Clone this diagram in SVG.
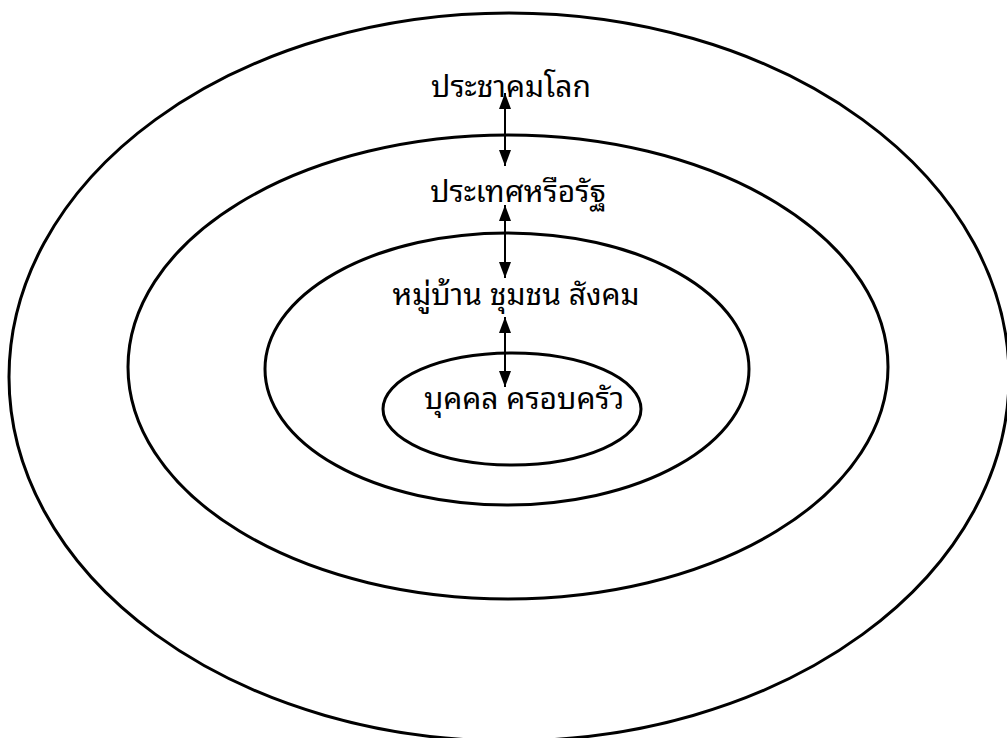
<svg xmlns="http://www.w3.org/2000/svg" width="1007" height="738" viewBox="0 0 1007 738">
<style>
.ring{fill:none;stroke:#000;stroke-width:3}
.lbl{font-family:"Noto Sans Thai Looped","Noto Serif Thai","Noto Sans Thai","Noto Sans","DejaVu Sans",sans-serif;font-size:30px;fill:#000;text-anchor:middle}
.arr{stroke:#000;stroke-width:2;fill:none;marker-start:url(#ah);marker-end:url(#ah)}
</style>
<defs>
<marker id="ah" viewBox="0 0 16 12" refX="16" refY="6" markerWidth="16" markerHeight="12" markerUnits="userSpaceOnUse" orient="auto-start-reverse">
<path d="M0,0 L16,6 L0,12 Z" fill="#000"/>
</marker>
</defs>
<rect width="1007" height="738" fill="#fff"/>
<g id="world">
<ellipse class="ring" cx="509" cy="377" rx="500" ry="364"/>
<text class="lbl" x="511" y="97">ประชาคมโลก</text>
</g>
<g id="country">
<ellipse class="ring" cx="508" cy="367" rx="380" ry="232"/>
<text class="lbl" x="518" y="202">ประเทศหรือรัฐ</text>
</g>
<g id="community">
<ellipse class="ring" cx="507" cy="369" rx="242" ry="136"/>
<text class="lbl" x="516" y="305">หมู่บ้าน ชุมชน สังคม</text>
</g>
<g id="family">
<ellipse class="ring" cx="512" cy="409" rx="129" ry="56"/>
<text class="lbl" x="524" y="409">บุคคล ครอบครัว</text>
</g>
<g id="connectors">
<line class="arr" x1="505" y1="93" x2="505" y2="166"/>
<line class="arr" x1="505" y1="205" x2="505" y2="278"/>
<line class="arr" x1="505" y1="317" x2="505" y2="387"/>
</g>
</svg>
